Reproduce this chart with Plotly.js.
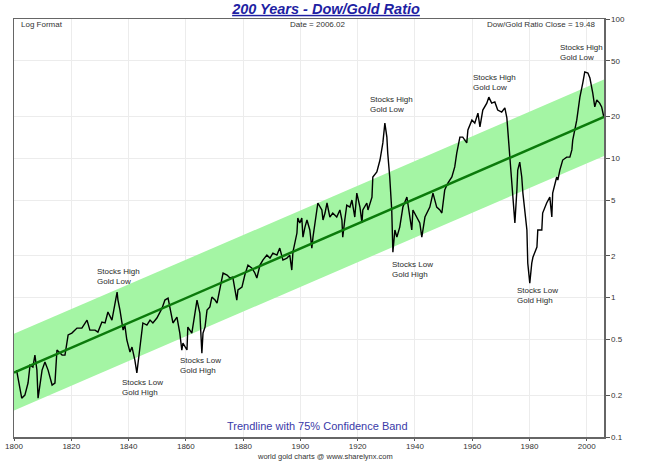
<!DOCTYPE html>
<html>
<head>
<meta charset="utf-8">
<script src="https://cdn.plot.ly/plotly-3.0.1.min.js"></script>
<style>html,body{margin:0;padding:0;background:#fff;}#chart{width:652px;height:461px;}</style>
</head>
<body>
<div id="chart"></div>
<script>
// Dow/Gold ratio
var years = [1800.9,1802.7,1803.8,1804.9,1805.6,1806.6,1807.3,1808.0,1808.4,1809.8,1810.8,1811.9,1813.3,1814.3,1815.0,1816.8,1817.8,1818.9,1820.2,1822.0,1823.7,1825.5,1826.5,1828.3,1829.3,1830.7,1831.8,1832.8,1834.2,1835.3,1836.0,1836.3,1837.0,1838.1,1838.7,1839.4,1840.5,1841.2,1842.2,1842.9,1843.3,1844.0,1845.0,1846.4,1847.5,1848.5,1849.9,
1851.7,1852.7,1853.8,1854.5,1855.5,1856.9,1857.9,1858.6,1859.0,1860.4,1860.7,1862.1,1863.2,1863.9,1864.9,1865.6,1866.0,1866.7,1867.4,1868.4,1869.1,1870.2,1870.9,1871.9,1873.0,1874.4,1875.4,1876.4,1877.8,1878.2,1879.6,1880.6,1881.7,1883.1,1884.1,1884.8,1885.9,1886.9,1888.3,1889.4,1890.4,1891.8,1892.8,1893.9,1895.3,1896.3,1897.0,1897.4,1898.8,1899.1,
1899.8,1900.5,1900.9,1901.6,1902.3,1903.3,1904.0,1904.4,1905.8,1906.1,1907.5,1907.9,1908.6,1909.3,1910.3,1911.3,1912.7,1913.8,1914.5,1914.8,1915.5,1916.2,1917.3,1918.0,1919.0,1919.7,1920.8,1921.5,1921.8,1923.2,1923.6,1925.0,1925.3,1926.7,1927.8,1928.8,1929.5,1930.2,1930.5,1931.2,1931.9,1932.3,1933.0,1933.7,1934.7,
1935.8,1937.2,1938.2,1938.9,1939.3,1940.7,1941.7,1942.4,1943.5,1945.2,1946.3,1947.6,1948.7,1949.4,1950.4,1951.5,1952.9,1953.9,1954.6,1955.7,1956.7,1958.1,1958.5,1959.9,1960.9,1962.0,1962.7,1963.7,1965.1,1965.8,1966.8,1967.9,1968.9,1970.3,1971.4,1972.1,1972.4,1973.1,1974.2,1974.9,1975.6,1975.9,1976.6,1977.3,1977.7,1978.4,1979.1,1979.4,1980.1,1980.8,1981.2,1982.6,1982.9,1984.3,1984.6,1986.0,1987.1,1987.8,1988.1,1989.5,1989.9,1990.6,1991.6,1993.0,1994.1,1994.8,1995.1,1996.5,1997.6,1998.6,1999.3,2000.4,2001.1,2002.1,2002.8,2003.5,2004.5,2005.2,2005.6,2006.02];
var ratio = [0.302,0.190,0.200,0.244,0.328,0.318,0.387,0.302,0.190,0.302,0.345,0.302,0.236,0.244,0.421,0.387,0.387,0.540,0.557,0.605,0.605,0.690,0.585,0.585,0.566,0.668,0.658,0.789,0.690,0.914,1.097,0.961,0.815,0.585,0.636,0.497,0.407,0.442,0.356,0.288,0.339,0.421,0.658,0.636,0.690,0.658,0.714,
0.841,0.961,0.994,0.857,0.658,0.726,0.557,0.42,0.472,0.421,0.615,0.557,0.815,0.961,0.775,0.400,0.557,0.615,0.815,0.857,1.010,0.961,0.914,1.191,1.503,1.453,1.384,1.406,0.961,1.135,1.191,1.453,1.714,1.630,1.503,1.384,1.714,1.862,2.02,1.923,2.09,2.02,2.27,1.862,1.923,2.02,1.578,2.12,2.91,3.73,
3.44,3.73,2.72,3.21,3.61,3.06,2.27,2.72,4.26,4.78,4.26,3.61,4.05,4.78,3.79,4.05,3.79,4.26,3.61,2.72,3.61,4.62,4.47,5.02,3.79,5.63,4.47,3.44,4.26,4.78,4.26,5.27,7.35,7.98,9.72,12.9,17.9,14.2,10.9,7.35,4.26,2.12,3.06,2.72,3.21,
4.47,5.27,3.79,3.06,4.26,3.79,3.44,2.72,3.79,4.47,5.63,4.47,4.26,4.05,5.92,6.65,7.35,8.67,10.9,14.2,14.2,12.9,15.96,18.8,17.9,21.1,16.8,22.2,24.9,27.5,24.9,25.4,22.2,21.5,23.0,19.5,15.96,10.2,5.27,3.44,5.92,8.24,9.40,7.35,5.63,4.26,3.06,1.77,1.27,1.77,1.95,2.31,3.06,3.06,4.05,4.78,5.27,3.79,5.63,7.35,6.98,8.24,9.72,10.2,10.2,11.5,13.5,18.8,27.5,34.7,41.7,40.9,37.7,29.4,23.4,26.2,24.9,23.4,21.1,19.48];

// Trendline and 75% confidence band
var trendYears = [1800, 2006.02];
var trendValues = [0.29, 19.8];
var bandUpper = [0.55, 36.8];
var bandLower = [0.155, 10.4];

// Axis ticks
var xTicks = [1800,1820,1840,1860,1880,1900,1920,1940,1960,1980,2000];
var yTicks = [0.1,0.2,0.5,1,2,5,10,20,50,100];
var yTickLabels = ['0.1','0.2','0.5','1','2','5','10','20','50','100'];

// Event labels
var noteYears = [1828.3,1837.0,1857.2,1923.6,1931.2,1959.5,1974.9,1989.9];
var noteValues = [1.42,0.228,0.326,24.3,1.59,35.0,1.03,57.5];
var noteTexts = ['Stocks High<br>Gold Low','Stocks Low<br>Gold High','Stocks Low<br>Gold High','Stocks High<br>Gold Low','Stocks Low<br>Gold High','Stocks High<br>Gold Low','Stocks Low<br>Gold High','Stocks High<br>Gold Low'];

var FONT = 'Liberation Sans, Arial, sans-serif';

var traces = [
  {x: trendYears, y: bandLower, type: 'scatter', mode: 'lines', line: {width: 0, color: '#a4f5a4'}, hoverinfo: 'skip', showlegend: false},
  {x: trendYears, y: bandUpper, type: 'scatter', mode: 'lines', line: {width: 0, color: '#a4f5a4'}, fill: 'tonexty', fillcolor: '#a4f5a4', hoverinfo: 'skip', showlegend: false},
  {x: years, y: ratio, type: 'scatter', mode: 'lines', line: {color: '#000000', width: 1.4}, showlegend: false},
  {x: trendYears, y: trendValues, type: 'scatter', mode: 'lines', line: {color: '#0b7a0b', width: 2.5}, showlegend: false}
];

var annotations = noteYears.map(function (yr, i) {
  return {x: yr, y: Math.log10(noteValues[i]), xref: 'x', yref: 'y', text: noteTexts[i], showarrow: false,
    xanchor: 'left', yanchor: 'middle', align: 'left', font: {family: FONT, size: 8, color: '#2a2a2a'}};
});
annotations.push(
  {x: 0.008, y: 0.988, xref: 'paper', yref: 'paper', text: 'Log Format', showarrow: false, xanchor: 'left', yanchor: 'middle', font: {family: FONT, size: 8, color: '#333'}},
  {x: 0.514, y: 0.988, xref: 'paper', yref: 'paper', text: 'Date = 2006.02', showarrow: false, xanchor: 'center', yanchor: 'middle', font: {family: FONT, size: 8, color: '#333'}},
  {x: 0.988, y: 0.988, xref: 'paper', yref: 'paper', text: 'Dow/Gold Ratio Close = 19.48', showarrow: false, xanchor: 'right', yanchor: 'middle', font: {family: FONT, size: 8, color: '#333'}},
  {x: 0.514, y: 0.026, xref: 'paper', yref: 'paper', text: 'Trendline with 75% Confidence Band', showarrow: false, xanchor: 'center', yanchor: 'middle', font: {family: FONT, size: 11, color: '#3a3aa8'}},
  {x: 0.527, y: -0.0455, xref: 'paper', yref: 'paper', text: 'world gold charts @ www.sharelynx.com', showarrow: false, xanchor: 'center', yanchor: 'middle', font: {family: FONT, size: 7.5, color: '#333'}}
);

var layout = {
  width: 652, height: 461,
  margin: {l: 14, r: 48, t: 19, b: 24, pad: 0},
  paper_bgcolor: '#ffffff', plot_bgcolor: '#ffffff',
  showlegend: false,
  title: {text: '200 Years - Dow/Gold Ratio', x: 0.5, xanchor: 'center', y: 0.981, yanchor: 'middle',
    font: {family: FONT, size: 14.5, color: '#1f1fa3', weight: 'bold', style: 'italic', lineposition: 'under'}},
  xaxis: {range: [1800, 2006.02], tickvals: xTicks, ticktext: xTicks.map(String), ticks: 'outside', ticklen: 2, tickcolor: '#555',
    ticklabelstandoff: -1,
    showgrid: true, gridcolor: '#ececec', gridwidth: 1, zeroline: false,
    showline: true, linecolor: '#666', linewidth: 1.5, mirror: true,
    tickfont: {family: FONT, size: 8, color: '#333'}},
  yaxis: {type: 'log', range: [-1, 2], side: 'right', tickvals: yTicks, ticktext: yTickLabels, ticks: 'outside', ticklen: 4, tickcolor: '#555',
    showgrid: true, gridcolor: '#ececec', gridwidth: 1, zeroline: false,
    showline: true, linecolor: '#666', linewidth: 1.5, mirror: true,
    tickfont: {family: FONT, size: 8, color: '#333'}},
  annotations: annotations
};

Plotly.newPlot('chart', traces, layout, {staticPlot: true, displayModeBar: false});
</script>
</body>
</html>
